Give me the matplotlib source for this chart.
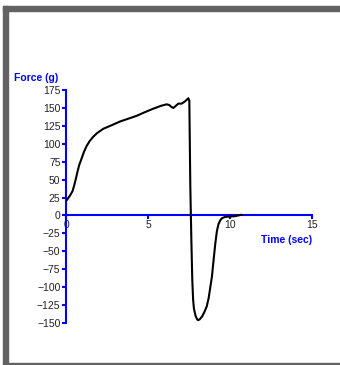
import matplotlib
matplotlib.use("Agg")
import matplotlib.pyplot as plt
from matplotlib.patches import Rectangle

plt.rcParams["font.family"] = ["Liberation Sans", "DejaVu Sans"]

# force vs time
time_s = [0.0, 0.1, 0.25, 0.4, 0.5, 0.6, 0.7, 0.8, 0.96, 1.1, 1.26, 1.45, 1.67,
          1.9, 2.28, 2.8, 3.29, 3.8, 4.31, 4.8, 5.33, 5.8, 6.14, 6.3, 6.45,
          6.55, 6.7, 6.85, 7.05, 7.25, 7.46, 7.52, 7.58, 7.64, 7.7, 7.75,
          7.8, 7.9, 8.0, 8.05, 8.15, 8.3, 8.45, 8.58, 8.7, 8.8, 8.9, 9.0,
          9.1, 9.2, 9.3, 9.4, 9.5, 9.7, 10.0, 10.3, 10.5, 10.7]
force_g = [20, 23, 28, 34, 42, 51, 61, 70, 80, 89, 97, 104, 110,
           115, 121, 126, 131, 135, 139, 144, 149, 153, 155, 154, 151,
           150, 153, 156, 156, 159, 163.5, 160, 40, -30, -90, -117,
           -130, -140, -145, -146, -145, -141, -134, -127, -115, -100, -85, -62,
           -40, -22, -12, -7, -4, -2, -1.5, -1, 0, 1]

x_ticks = [0, 5, 10, 15]
y_ticks = list(range(-150, 176, 25))

W, H = 340, 365
fig = plt.figure(figsize=(W / 100, H / 100), dpi=100)
fig.patch.set_facecolor("white")

# grey window frame
frame = "#626262"
fig.patches.append(Rectangle((3 / W, 1 - 11 / H), 1, 5 / H, transform=fig.transFigure, color=frame, zorder=0))
fig.patches.append(Rectangle((3 / W, 0), 5 / W, 1 - 6 / H, transform=fig.transFigure, color=frame, zorder=0))
fig.patches.append(Rectangle((3 / W, 0), 1, 2 / H, transform=fig.transFigure, color=frame, zorder=0))

ax = fig.add_axes([66 / W, (H - 323) / H, (312 - 66) / W, (323 - 90) / H])
ax.plot(time_s, force_g, color="black", linewidth=1.5, zorder=3,
        solid_joinstyle="round", solid_capstyle="round")

ax.set_xlim(0, 15)
ax.set_ylim(-150, 175)
ax.set_facecolor("none")

blue = "#0000ff"
for s in ["top", "right"]:
    ax.spines[s].set_visible(False)
ax.spines["bottom"].set_position(("data", 0))
ax.spines["left"].set_position(("data", 0))
ax.spines["bottom"].set_color(blue)
ax.spines["left"].set_color(blue)
ax.spines["bottom"].set_linewidth(1.5)
ax.spines["left"].set_linewidth(1.5)

ax.set_xticks(x_ticks)
ax.set_yticks(y_ticks)
ax.tick_params(axis="both", colors=blue, labelcolor="#222222", labelsize=7.5,
               length=3, width=1.5, direction="out", pad=1)
ax.tick_params(axis="x", pad=0)

fig.text(14 / W, 1 - 78 / H, "Force (g)", color=blue, fontsize=7.5, fontweight="bold",
         va="center", ha="left")
fig.text(312 / W, 1 - 240 / H, "Time (sec)", color=blue, fontsize=7.5, fontweight="bold",
         va="center", ha="right")

fig.savefig("out.png", dpi=100)
